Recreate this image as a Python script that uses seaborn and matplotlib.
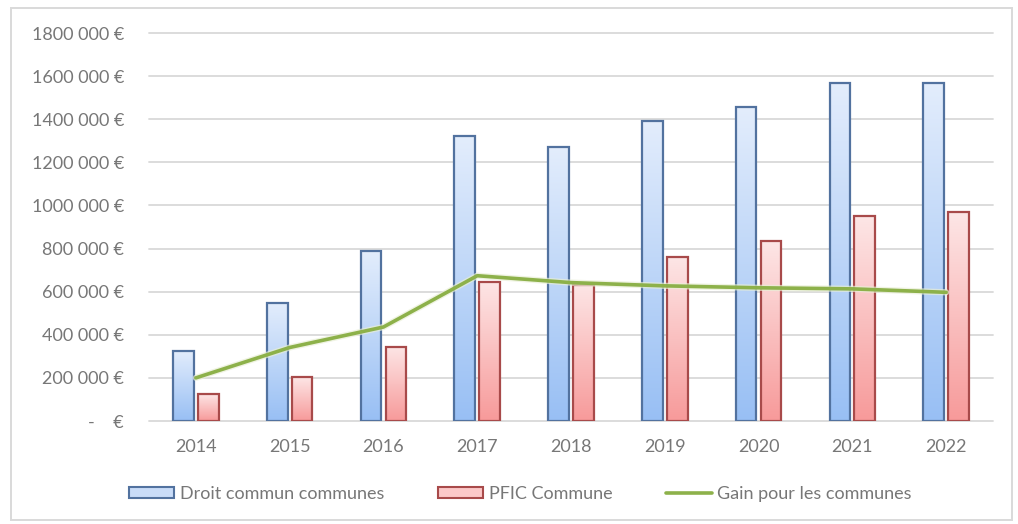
import numpy as np
import pandas as pd
import seaborn as sns
import matplotlib.pyplot as plt
import matplotlib.patheffects as pe
from matplotlib.colors import LinearSegmentedColormap
from matplotlib.patches import Patch, Rectangle
from matplotlib.lines import Line2D

# Annual figures (euros)
years = ["2014", "2015", "2016", "2017", "2018", "2019", "2020", "2021", "2022"]
droit_commun = [326000, 549000, 789000, 1322000, 1271000, 1393000, 1456000, 1570000, 1570000]
pfic_commune = [125000, 203000, 345000, 646000, 631000, 762000, 835000, 951000, 968000]
gain_communes = [200000, 341000, 436000, 674000, 642000, 627000, 618000, 613000, 597000]

series_names = ["Droit commun communes", "PFIC Commune", "Gain pour les communes"]
y_ticks = [0, 200000, 400000, 600000, 800000, 1000000, 1200000, 1400000, 1600000, 1800000]

TEXT = "#777777"
GRID = "#d9d9d9"
BLUE_EDGE = "#52729f"
RED_EDGE = "#a84a4a"
GREEN = "#8db14a"

sns.set_theme(style="white")
plt.rcParams["font.family"] = ["Lato", "DejaVu Sans"]

bars = pd.DataFrame({
    "year": years * 2,
    "value": droit_commun + pfic_commune,
    "series": [series_names[0]] * len(years) + [series_names[1]] * len(years),
})

fig = plt.figure(figsize=(10.18, 5.24), dpi=100)
ax = fig.add_axes([149 / 1018, 1 - 421 / 524, (993 - 149) / 1018, (421 - 33) / 524])

sns.barplot(data=bars, x="year", y="value", hue="series",
            palette=["#c9dcf8", "#fbc8c8"], width=0.53, gap=0.17,
            edgecolor="none", linewidth=0, legend=False, ax=ax, zorder=2)

# Vertical gradient fill for each bar
blue_cmap = LinearSegmentedColormap.from_list("blue_grad", ["#98bff4", "#e3edfc"])
red_cmap = LinearSegmentedColormap.from_list("red_grad", ["#f79a9a", "#fde6e6"])
grad = np.linspace(0, 1, 256).reshape(-1, 1)
n = len(years)
for i, patch in enumerate(ax.patches[:2 * n]):
    x0, y0 = patch.get_x(), patch.get_y()
    w, h = patch.get_width(), patch.get_height()
    cmap = blue_cmap if i < n else red_cmap
    edge = BLUE_EDGE if i < n else RED_EDGE
    ax.imshow(grad, cmap=cmap, origin="lower", aspect="auto",
              extent=[x0, x0 + w, y0, y0 + h], zorder=2.1, interpolation="bicubic")
    ax.add_patch(Rectangle((x0, y0), w, h, facecolor="none", edgecolor=edge,
                           linewidth=1.6, zorder=2.2))

# Gain line on the same categorical positions
sns.lineplot(x=np.arange(n), y=gain_communes, color=GREEN, linewidth=2.6, ax=ax, zorder=3,
             path_effects=[pe.Stroke(linewidth=4.5, foreground="#e9efd6", alpha=0.7), pe.Normal()])

ax.set_xlim(-0.5, n - 0.5)
ax.set_ylim(0, 1800000)
ax.set_yticks(y_ticks)
ax.set_yticklabels(["-    €" if v == 0 else f"{v // 1000} 000 €" for v in y_ticks])
ax.set_xlabel("")
ax.set_ylabel("")
for v in y_ticks:
    ax.axhline(v, color=GRID, linewidth=1.3, zorder=1, clip_on=False)
for s in ax.spines.values():
    s.set_visible(False)
ax.tick_params(axis="x", length=0, pad=13, labelsize=13, labelcolor=TEXT)
ax.tick_params(axis="y", length=0, pad=18, labelsize=13, labelcolor=TEXT)

handles = [
    Patch(facecolor="#c9dcf8", edgecolor=BLUE_EDGE, linewidth=1.5),
    Patch(facecolor="#fbc8c8", edgecolor=RED_EDGE, linewidth=1.5),
    Line2D([0], [0], color=GREEN, linewidth=2.6),
]
fig.legend(handles, series_names, loc="center", bbox_to_anchor=(0.511, 1 - 494 / 524),
           ncol=3, frameon=False, fontsize=13, labelcolor=TEXT, handlelength=2.5,
           handleheight=0.6, handletextpad=0.3, columnspacing=3.0)

# Outer chart frame
fig.patches.append(Rectangle((11 / 1018, 1 - 520 / 524), 1001 / 1018, 512 / 524,
                             transform=fig.transFigure, fill=False,
                             edgecolor="#d9d9d9", linewidth=1.4))

fig.savefig("out.png", dpi=100)
